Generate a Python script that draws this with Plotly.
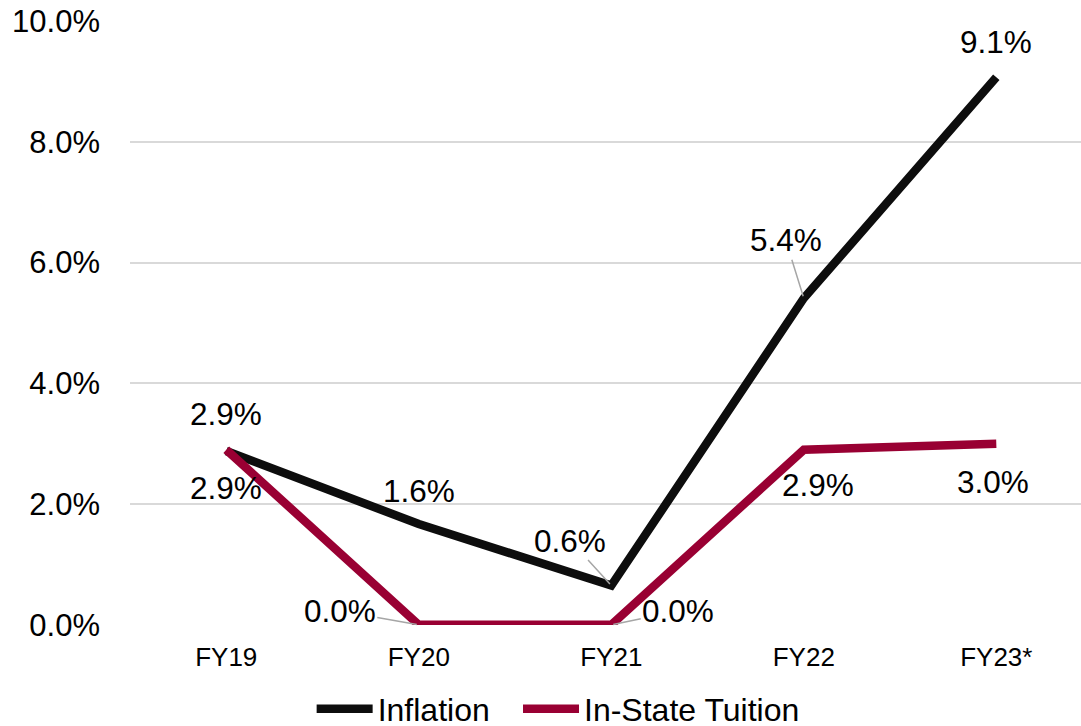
import plotly.graph_objects as go

years = ["FY19", "FY20", "FY21", "FY22", "FY23*"]
inflation = [2.88, 1.67, 0.65, 5.41, 9.07]
inflation_labels = ["2.9%", "1.6%", "0.6%", "5.4%", "9.1%"]
tuition = [2.9, 0.0, 0.0, 2.9, 3.0]
tuition_labels = ["2.9%", "0.0%", "0.0%", "2.9%", "3.0%"]
y_ticks = [0, 2, 4, 6, 8, 10]
y_tick_labels = ["0.0%", "2.0%", "4.0%", "6.0%", "8.0%", "10.0%"]

black = "#0d0d0d"
maroon = "#990033"
leader = "#a6a6a6"
font_family = "Liberation Sans, Arial, sans-serif"

# label placement (pixel offsets from the point), third item = draw leader line
infl_offsets = [(0, -37, False), (0, -33, False), (-41, -45, True), (-18, -58, True), (0, -35, False)]
tuit_offsets = [(0, 38, False), (-79, -14, True), (67, -14, True), (14, 35, False), (-3, 38, False)]

fig = go.Figure()
fig.add_trace(go.Scatter(x=years, y=inflation, mode="lines", name="Inflation",
                         line=dict(color=black, width=8.5), legend="legend"))
fig.add_trace(go.Scatter(x=years, y=tuition, mode="lines", name="In-State Tuition",
                         line=dict(color=maroon, width=8.5), legend="legend2"))

annotations = []
for series, labels, offsets in [(inflation, inflation_labels, infl_offsets),
                                (tuition, tuition_labels, tuit_offsets)]:
    for i, (val, lab) in enumerate(zip(series, labels)):
        dx, dy, has_leader = offsets[i]
        if has_leader:
            annotations.append(dict(x=years[i], y=val, text=lab, showarrow=True,
                                    ax=dx, ay=dy, arrowhead=0, arrowwidth=1.5,
                                    arrowcolor=leader, standoff=2,
                                    font=dict(size=31.5, color="#000000", family=font_family)))
        else:
            annotations.append(dict(x=years[i], y=val, text=lab, showarrow=False,
                                    xshift=dx, yshift=-dy,
                                    font=dict(size=31.5, color="#000000", family=font_family)))

legend_style = dict(orientation="h", xanchor="left", y=-0.139, yanchor="middle",
                    font=dict(size=32, family=font_family), itemwidth=56,
                    bgcolor="rgba(0,0,0,0)")

fig.update_layout(
    width=1081, height=726,
    margin=dict(l=130, r=0, t=21, b=101, autoexpand=False),
    paper_bgcolor="white", plot_bgcolor="white",
    font=dict(family=font_family, color="#000000"),
    showlegend=True,
    legend=dict(x=0.191, **legend_style),
    legend2=dict(x=0.408, **legend_style),
    annotations=annotations,
    xaxis=dict(range=[-0.5, 4.44], showgrid=False, showline=False, ticks="",
               tickfont=dict(size=26, family=font_family), ticklabelstandoff=14),
    yaxis=dict(range=[-0.003, 10.003], tickvals=y_ticks, ticktext=y_tick_labels,
               showgrid=True, gridcolor="#d9d9d9", gridwidth=2, zeroline=False,
               showline=False, ticks="", ticklabelstandoff=29,
               tickfont=dict(size=31, family=font_family)),
)

# drop the browser's default body margin so the figure fills the window
fig.write_html("out.html", config={"displayModeBar": False},
               post_script="document.body.style.margin='0';")
